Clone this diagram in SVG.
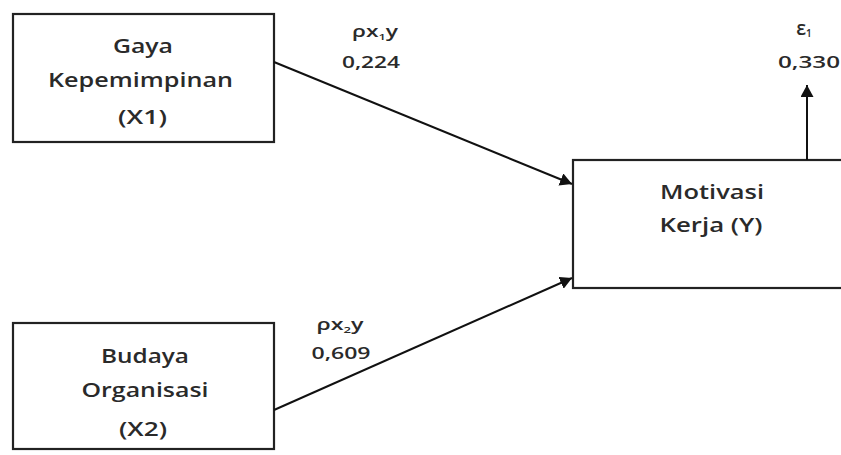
<svg xmlns="http://www.w3.org/2000/svg" width="841" height="455" viewBox="0 0 841 455">
<defs>
<marker id="ah" viewBox="0 0 12 13" refX="12" refY="6.5" markerWidth="12" markerHeight="13" orient="auto-start-reverse" markerUnits="userSpaceOnUse">
<path d="M0,0 L12,6.5 L0,13 z" fill="#111"/>
</marker>
<style>
.box{fill:#fff;stroke:#222;stroke-width:2.2}
.t{font-family:"Open Sans","Liberation Sans",sans-serif;font-size:19px;font-weight:600;fill:#2a2a2a;text-anchor:middle}
.s{font-size:16px}
.c{stroke:#111;stroke-width:2;fill:none}
</style>
</defs>
<rect width="841" height="455" fill="#fff"/>
<g id="x1">
<rect class="box" x="13" y="14" width="261" height="128"/>
<text class="t" x="143" y="53" textLength="60" lengthAdjust="spacingAndGlyphs">Gaya</text>
<text class="t" x="140.5" y="87" textLength="185" lengthAdjust="spacingAndGlyphs">Kepemimpinan</text>
<text class="t" x="142.5" y="124" textLength="49" lengthAdjust="spacingAndGlyphs">(X1)</text>
</g>
<g id="x2">
<rect class="box" x="13" y="323" width="261" height="126"/>
<text class="t" x="145" y="363" textLength="88" lengthAdjust="spacingAndGlyphs">Budaya</text>
<text class="t" x="145" y="397" textLength="127" lengthAdjust="spacingAndGlyphs">Organisasi</text>
<text class="t" x="143" y="436" textLength="48" lengthAdjust="spacingAndGlyphs">(X2)</text>
</g>
<g id="y">
<rect class="box" x="573" y="160" width="280" height="128"/>
<text class="t" x="712" y="199" textLength="104" lengthAdjust="spacingAndGlyphs">Motivasi</text>
<text class="t" x="711" y="232" textLength="103" lengthAdjust="spacingAndGlyphs">Kerja (Y)</text>
</g>
<g id="connectors">
<line class="c" x1="274" y1="62" x2="572" y2="184" marker-end="url(#ah)"/>
<line class="c" x1="274" y1="410" x2="572" y2="278" marker-end="url(#ah)"/>
<line class="c" x1="807" y1="160" x2="807" y2="85" marker-end="url(#ah)"/>
</g>
<g id="labels">
<text class="t s" x="375" y="37" textLength="46" lengthAdjust="spacingAndGlyphs">ρx<tspan font-size="9" dy="3">1</tspan><tspan dy="-3">y</tspan></text>
<text class="t s" x="371" y="68" textLength="58" lengthAdjust="spacingAndGlyphs">0,224</text>
<text class="t s" x="340" y="330" textLength="47" lengthAdjust="spacingAndGlyphs">ρx<tspan font-size="9" dy="3">2</tspan><tspan dy="-3">y</tspan></text>
<text class="t s" x="341" y="359" textLength="59" lengthAdjust="spacingAndGlyphs">0,609</text>
<text class="t" x="804" y="35" font-size="20">ε<tspan font-size="10" dy="2">1</tspan></text>
<text class="t s" x="809" y="68" textLength="62" lengthAdjust="spacingAndGlyphs">0,330</text>
</g>
</svg>
